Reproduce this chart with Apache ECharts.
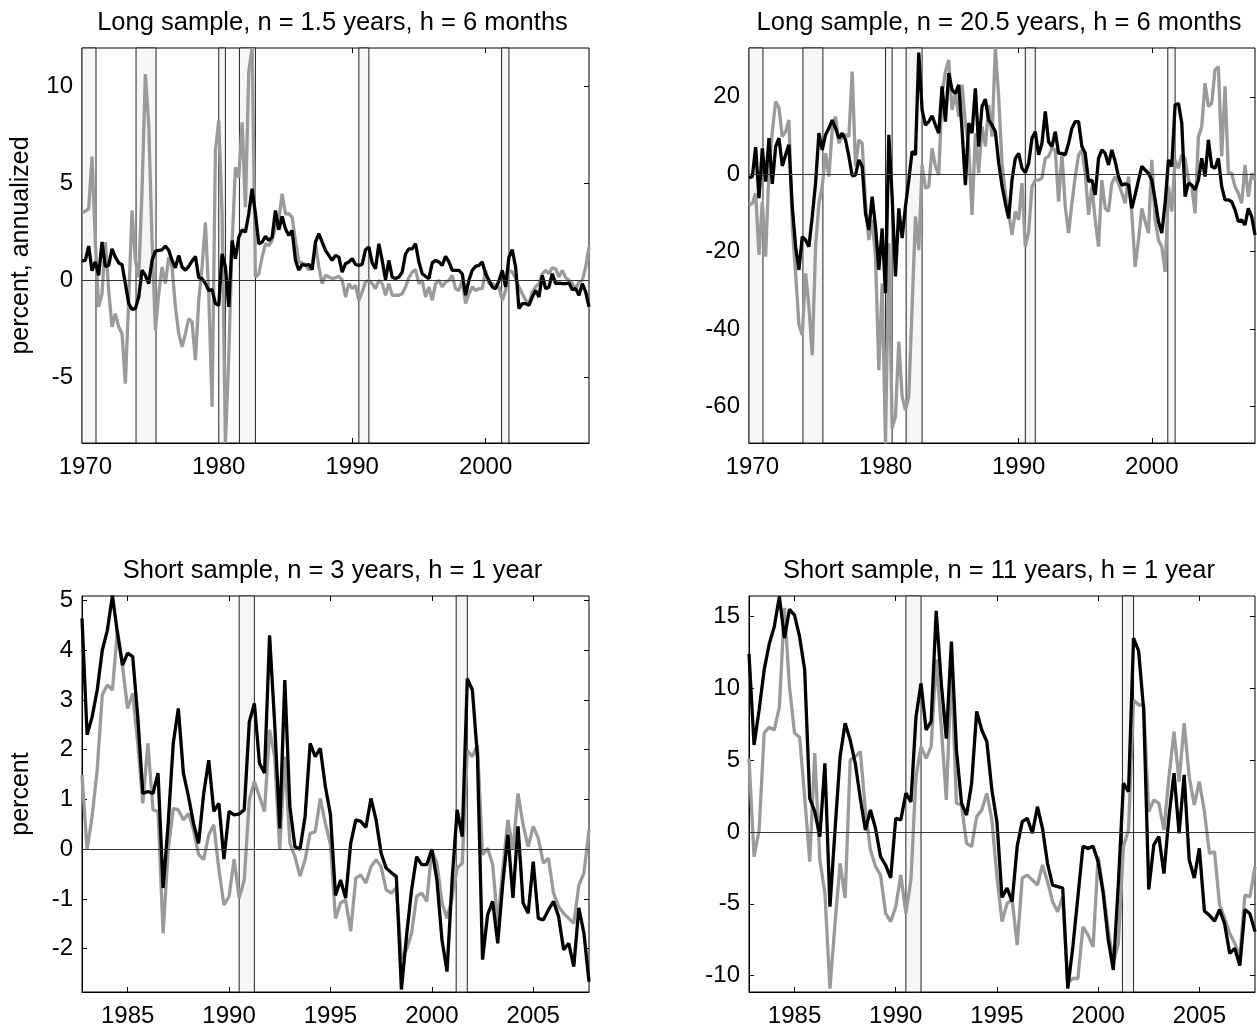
<!DOCTYPE html>
<html><head><meta charset="utf-8">
<script src="https://cdn.jsdelivr.net/npm/echarts@6/dist/echarts.min.js"></script>
<style>html,body{margin:0;padding:0;background:#fff}#c{width:1257px;height:1030px}</style>
</head><body><div id="c"></div>
<script>
// quarterly samples: long sample starts 1969Q4, short sample starts 1982Q4
const longStart = 1969.75;
const shortStart = 1982.75;
const recessions = [[1969.75,1970.8],[1973.8,1975.3],[1980.0,1980.5],[1981.55,1982.75],[1990.5,1991.25],[2001.2,2001.75]];
const ticksLongX = [1970,1980,1990,2000];
const ticksShortX = [1985,1990,1995,2000,2005];
const ticksY1 = [-5,0,5,10];
const ticksY2 = [-60,-40,-20,0,20];
const ticksY3 = [-2,-1,0,1,2,3,4,5];
const ticksY4 = [-10,-5,0,5,10,15];

const tlBlack = [
1.0,1.03,1.77,0.5,0.95,0.26,1.98,0.72,0.77,1.63,
1.2,0.9,0.82,-0.17,-1.2,-1.5,-1.46,-0.86,0.52,0.26,
-0.17,1.03,1.51,1.55,1.58,1.77,1.55,1.03,0.65,1.29,
0.69,0.52,0.72,1.0,1.24,0.14,0.09,-0.17,-0.52,-0.48,
-1.2,-1.29,1.37,0.69,-1.37,2.06,1.12,2.23,2.61,2.49,
3.44,4.73,3.44,1.89,1.98,2.27,2.06,2.23,3.61,2.61,
3.3,2.66,2.32,2.58,1.03,0.52,0.82,0.77,0.82,0.55,
1.98,2.41,1.98,1.55,1.29,1.03,1.29,1.2,0.43,0.86,
0.95,1.12,0.82,0.77,0.82,1.58,1.72,0.9,0.6,1.89,
1.03,0.03,1.03,0.17,0.09,0.17,0.43,1.37,1.63,1.63,
1.89,0.95,0.34,0.21,0.09,0.9,1.03,0.95,0.77,1.24,
0.95,0.52,0.52,0.52,0.34,-0.77,0,0.52,0.72,0.77,
0.95,0.34,0,-0.34,-0.43,-0.03,0.52,-0.34,1.2,1.58,
0.69,-1.46,-1.2,-1.2,-1.29,-0.86,-0.52,-0.86,0.26,-0.43,
-0.34,0.34,-0.17,-0.14,-0.17,-0.17,-0.14,-0.48,-0.43,-0.77,
-0.17,-0.6,-1.37];
const tlGray = [
3.5,3.57,3.69,6.39,2.0,-1.37,-0.69,1.98,-0.5,-2.4,
-1.72,-2.4,-2.75,-5.33,-1.03,3.61,1.03,0.17,4.64,10.65,
8.08,2.06,-2.58,-0.69,0.69,-0.17,1.2,0.69,-1.37,-2.75,
-3.44,-2.75,-1.98,-2.15,-4.12,-1.03,0.69,3.0,-0.69,-6.53,
6.7,8.25,3.44,-8.4,-3.95,1.89,5.84,5.3,8.16,3.78,
10.8,12.0,0.17,0.34,1.2,1.89,1.8,2.06,2.75,3.09,
4.47,3.44,3.44,3.26,2.06,0.95,0.9,0.82,0.52,0.82,
1.89,0.69,-0.17,0.26,0.17,0.09,0.14,0.21,0.03,-0.86,
-0.17,-0.43,-0.26,-1.03,-0.6,-0.09,0,-0.17,-0.43,0,
-0.17,-0.77,-0.17,-0.77,-0.77,-0.77,-0.69,-0.34,0.14,0.43,
0.55,-0.17,0,-0.86,-0.34,-1.03,-0.17,0,-0.34,-0.09,
0,0.26,-0.43,-0.52,0,-1.2,-0.69,-0.34,-0.52,-0.43,
-0.43,0.52,-0.17,-0.17,-0.26,-0.34,-1.03,-0.52,0.52,0.43,
0.09,-0.34,-0.69,-1.03,-1.2,-0.6,-0.34,-0.17,0.34,0.52,
0.34,0.65,0.6,0.17,0.52,0.14,0,-0.17,-0.43,-0.09,
0,0.69,1.72];
const trBlack = [
-1.0,-0.6,6.98,-6.2,6.7,-1.9,9.3,-2.5,7.15,9.3,
2.15,5.0,7.58,-8.35,-18.7,-24.7,-16.1,-17.0,-18.7,-10.9,
-2.3,10.6,6.3,10.2,11.9,14.0,11.9,9.3,10.6,8.9,
4.6,-0.4,-0.2,3.7,2.0,-10.1,-14.4,-5.8,-13.5,-24.7,
-14.0,-30.7,10.2,-5.8,-26.4,-8.8,-16.5,-8.35,-1.5,5.9,
5.0,31.4,16.6,12.7,13.6,15.1,12.7,10.6,22.7,13.6,
26.1,21.8,20.9,23.1,11.5,-2.8,13.2,10.6,22.2,7.15,
17.5,19.4,14.0,12.7,11.0,3.0,-3.0,-7.5,-11.4,-1.5,
4.1,5.4,1.55,0.43,2.8,9.3,11.0,5.0,8.0,16.2,
8.4,7.15,11.0,5.4,5.4,5.0,8.0,11.9,13.6,13.6,
7.15,5.4,-1.9,-1.5,-5.3,4.1,6.3,5.4,2.4,6.3,
3.3,-0.6,-2.8,-2.5,-2.8,-8.8,-5.3,-1.5,2.0,1.1,
0.26,-1.5,-6.6,-12.2,-15.2,-7.5,3.7,2.0,17.9,18.3,
13.2,-5.8,-2.3,-2.8,-4.0,-1.5,4.1,-0.6,8.9,2.0,
1.55,4.1,-3.2,-6.6,-6.6,-7.1,-9.2,-12.2,-11.8,-13.1,
-8.8,-10.9,-15.7];
const trGray = [
-8.0,-7.5,-4.9,-20.8,-7.1,-21.3,1.1,11.0,18.8,17.1,
9.7,11.0,14.0,-13.5,-25.6,-38.9,-41.5,-25.6,-34.2,-46.7,
-18.7,-7.5,-3.2,5.4,-0.6,11.5,14.9,8.0,9.7,10.2,
9.7,26.5,2.0,8.9,8.0,-7.5,-17.0,-11.8,-21.3,-50.6,
-28.2,-69.5,-17.8,-65.6,-62.6,-43.2,-57.4,-60.9,-57.4,-34.2,
-10.9,-19.6,2.4,-3.6,-3.2,6.7,2.0,-0.2,20.9,26.5,
29.5,16.6,20.9,14.9,23.1,13.2,7.15,-10.5,10.6,0.26,
12.3,7.15,17.9,9.7,32.6,20.0,3.0,-5.0,-10.1,-15.7,
-9.6,-11.8,-2.3,-18.7,-14.8,-3.2,-1.5,-1.5,-1.0,4.1,
4.6,6.7,6.3,-7.1,5.4,-8.35,-15.2,-7.5,-0.6,5.0,
6.3,0.26,-10.5,-3.2,-11.8,-18.7,-1.5,-8.8,-9.6,-2.3,
-0.6,-2.3,-4.9,-7.5,-0.6,-10.1,-23.9,-17.0,-8.8,-12.2,
-15.2,3.7,-11.8,-17.0,-18.7,-25.2,-3.2,-9.6,3.7,1.55,
5.0,4.1,-1.5,-3.2,-10.1,9.7,12.3,23.5,17.5,18.3,
27.0,27.8,4.6,22.7,0.26,0.26,-3.2,-4.9,-7.5,2.4,
-5.8,0.26,-1.5];
const blBlack = [
4.64,2.3,2.66,3.2,4.0,4.4,5.1,4.34,3.7,3.94,
3.87,2.66,1.12,1.16,1.12,1.53,-0.78,0.52,2.13,2.83,
1.53,1.06,0.52,0.12,1.12,1.79,0.76,0.92,-0.2,0.76,
0.69,0.71,0.79,2.56,2.93,1.73,1.53,4.3,2.53,0.42,
3.4,0.86,0.05,0,0.66,2.13,1.86,2.03,1.26,0.7,
-0.93,-0.62,-0.98,0.12,0.59,0.56,0.44,1.02,0.59,-0.08,
-0.38,-0.47,-0.55,-2.82,-1.75,-0.82,-0.15,-0.31,-0.31,0,
-0.62,-1.82,-2.46,-0.62,0.79,0.25,3.43,3.2,1.86,-2.22,
-1.32,-1.05,-1.89,-0.68,0.29,-0.98,0.46,-1.08,-1.29,-0.25,
-1.39,-1.42,-1.22,-1.05,-1.35,-2.02,-1.89,-2.36,-1.18,-1.69,
-2.66];
const blGray = [
1.49,-0.01,0.66,1.6,3.1,3.3,3.2,4.4,3.67,2.83,
3.13,2.13,0.92,2.13,0.79,0.76,-1.69,-0.01,0.82,0.79,
0.59,0.72,0.39,-0.11,-0.21,0.29,0.49,-0.41,-1.12,-0.95,
-0.2,-0.98,-0.62,0.99,1.36,1.06,0.76,2.4,1.86,-0.01,
1.86,0.12,-0.15,-0.54,-0.21,0.32,0.35,1.02,0.52,0.1,
-1.39,-1.08,-1.02,-1.65,-0.58,-0.52,-0.68,-0.35,-0.21,-0.35,
-0.82,-0.88,-0.78,-2.2,-2.02,-1.69,-0.95,-0.88,-1.05,-0.01,
-0.28,-1.08,-1.39,-0.98,-0.38,-0.28,1.99,1.86,2.1,-0.11,
0.02,-0.31,-1.49,-0.41,0.59,-0.01,1.12,0.49,0.05,0.46,
0.22,-0.28,-0.18,-0.88,-1.15,-1.29,-1.39,-1.49,-0.72,-0.48,
0.39];
const brBlack = [
12.4,6.06,8.5,11.3,13.1,14.3,16.4,13.5,15.5,15.1,
13.6,11.3,2.34,1.42,-0.32,4.78,-5.2,0.14,5.25,7.57,
6.4,4.78,2.34,0.14,1.53,0.26,-1.72,-2.3,-3.2,0.95,
0.84,2.7,2.1,8.0,10.35,7.1,7.7,15.4,10.35,6.5,
13.25,5.7,2.0,1.18,3.4,8.4,7.1,6.3,2.92,0.7,
-4.55,-3.9,-4.85,-1.0,0.72,0.95,-0.09,1.76,0.26,-2.2,
-3.7,-3.8,-3.9,-10.9,-8.0,-4.5,-1.0,-1.14,-1.0,-2.07,
-4.27,-7.5,-9.6,-3.57,3.4,2.8,13.5,12.6,8.5,-4.0,
-0.9,-0.32,-2.9,1.07,4.1,-0.09,3.97,-1.95,-3.2,-1.14,
-5.5,-5.8,-6.2,-5.4,-6.4,-8.45,-8.1,-9.3,-5.4,-5.7,
-6.94];
const brGray = [
5.13,-1.72,0.14,6.9,7.3,7.1,8.7,15.6,10.1,6.9,
6.6,2.46,-2.07,5.5,-1.95,-4.27,-10.9,-6.36,-2.18,-4.6,
5.0,5.25,5.6,1.53,-1.25,-2.4,-3.0,-5.66,-6.24,-5.2,
-3.0,-5.66,-3.34,3.85,5.94,5.13,5.94,12.0,7.3,2.23,
11.5,2.0,1.88,-0.79,-1.02,1.07,1.53,2.7,0.84,-3.1,
-6.24,-4.97,-4.7,-7.87,-3.2,-3.0,-3.34,-3.7,-2.3,-3.46,
-4.85,-5.55,-4.5,-10.5,-10.2,-10.2,-6.6,-7.17,-8.0,-1.72,
-4.04,-6.8,-9.15,-7.75,-1.02,0.14,9.2,8.84,8.84,1.42,
2.23,2.0,0.14,3.85,6.99,3.5,7.57,3.85,1.88,3.5,
1.42,-1.49,-1.37,-5.08,-6.0,-7.06,-7.75,-8.7,-4.39,-4.5,
-2.41];

const FONT = "'Liberation Sans', Arial, sans-serif";
const panels = [
  {title:'Long sample, n = 1.5 years, h = 6 months', left:82, top:48, width:507, height:395, start:longStart, xmin:1969.75, xmax:2007.75, ymin:-8.4, ymax:12, xt:ticksLongX, yt:ticksY1, black:tlBlack, gray:tlGray, yname:'percent, annualized'},
  {title:'Long sample, n = 20.5 years, h = 6 months', left:749, top:48, width:506, height:395, start:longStart, xmin:1969.75, xmax:2007.75, ymin:-69.4, ymax:32.6, xt:ticksLongX, yt:ticksY2, black:trBlack, gray:trGray, yname:''},
  {title:'Short sample, n = 3 years, h = 1 year', left:82, top:596, width:507, height:396, start:shortStart, xmin:1982.75, xmax:2007.75, ymin:-2.87, ymax:5.09, xt:ticksShortX, yt:ticksY3, black:blBlack, gray:blGray, yname:'percent'},
  {title:'Short sample, n = 11 years, h = 1 year', left:749, top:596, width:506, height:396, start:shortStart, xmin:1982.75, xmax:2007.75, ymin:-11.14, ymax:16.43, xt:ticksShortX, yt:ticksY4, black:brBlack, gray:brGray, yname:''}
];

function pairs(start, arr){ return arr.map((v,i)=>[start + i/4, v]); }

const grid=[], xAxis=[], yAxis=[], series=[], title=[];
panels.forEach((p,k)=>{
  grid.push({left:p.left, top:p.top, width:p.width, height:p.height, show:true, borderColor:'#000', borderWidth:1, backgroundColor:'rgba(0,0,0,0)'});
  title.push({text:p.title, left:p.left + p.width/2 - 8, top:p.top - 43, textAlign:'center',
    textStyle:{fontFamily:FONT, fontSize:25.5, fontWeight:'normal', color:'#000'}});
  const tickStyle = {show:true, inside:true, length:5, lineStyle:{color:'#000', width:1}};
  xAxis.push({type:'value', gridIndex:k, position:'bottom', min:p.xmin, max:p.xmax,
    axisLine:{show:true, onZero:false, lineStyle:{color:'#000', width:1}},
    axisTick:Object.assign({customValues:p.xt}, tickStyle),
    axisLabel:{customValues:p.xt, formatter:v=>String(v), fontFamily:FONT, fontSize:24, color:'#000', margin:12},
    splitLine:{show:false}});
  xAxis.push({type:'value', gridIndex:k, position:'top', min:p.xmin, max:p.xmax,
    axisLine:{show:false, onZero:false}, axisTick:Object.assign({customValues:p.xt}, tickStyle),
    axisLabel:{show:false}, splitLine:{show:false}});
  yAxis.push({type:'value', gridIndex:k, position:'left', min:p.ymin, max:p.ymax,
    name:p.yname, nameLocation:'middle', nameGap:48, nameRotate:90,
    nameTextStyle:{fontFamily:FONT, fontSize:25, color:'#000'},
    axisLine:{show:true, onZero:false, lineStyle:{color:'#000', width:1}},
    axisTick:Object.assign({customValues:p.yt}, tickStyle),
    axisLabel:{customValues:p.yt, formatter:v=>String(v), fontFamily:FONT, fontSize:24, color:'#000', margin:9},
    splitLine:{show:false}});
  yAxis.push({type:'value', gridIndex:k, position:'right', min:p.ymin, max:p.ymax,
    axisLine:{show:false, onZero:false}, axisTick:Object.assign({customValues:p.yt}, tickStyle),
    axisLabel:{show:false}, splitLine:{show:false}});
  const bands = recessions.filter(r=>r[1]>p.xmin && r[0]<p.xmax)
    .map(r=>[{xAxis:Math.max(r[0],p.xmin)},{xAxis:Math.min(r[1],p.xmax)}]);
  const xi = 2*k, yi = 2*k;
  series.push({type:'line', xAxisIndex:xi, yAxisIndex:yi, data:pairs(p.start,p.gray), symbol:'none',
    lineStyle:{opacity:0}, silent:true, z:1,
    markArea:{silent:true, itemStyle:{color:'#f6f6f6', borderColor:'#222', borderWidth:1}, data:bands},
    markLine:{silent:true, symbol:['none','none'], label:{show:false},
      lineStyle:{color:'#333', width:1, type:'solid'}, data:[{yAxis:0}]}});
  series.push({type:'line', xAxisIndex:xi, yAxisIndex:yi, data:pairs(p.start,p.gray), symbol:'none',
    lineStyle:{color:'#9a9a9a', width:3.3}, z:3});
  series.push({type:'line', xAxisIndex:xi, yAxisIndex:yi, data:pairs(p.start,p.black), symbol:'none',
    lineStyle:{color:'#000', width:3.3}, z:4});
});

const chart = echarts.init(document.getElementById('c'), null, {renderer:'canvas'});
chart.setOption({animation:false, backgroundColor:'#fff', title, grid, xAxis, yAxis, series});
</script></body></html>
